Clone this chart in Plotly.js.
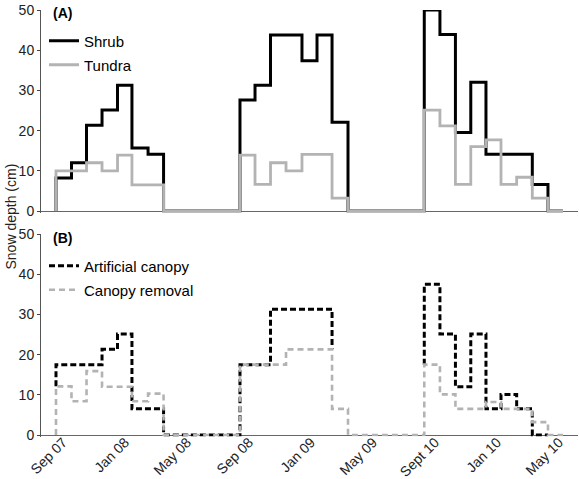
<!DOCTYPE html>
<html>
<head>
<meta charset="utf-8">
<script src="https://cdn.plot.ly/plotly-3.0.1.min.js"></script>
<style>html,body{margin:0;padding:0;background:#fff;}#chart{width:579px;height:479px;}</style>
</head>
<body>
<div id="chart"></div>
<script>
// ---- data (x = months after Sep 2007, step edges) ----
const monthEdges = [-0.71, 0.29, 1.26, 2.26, 3.26, 4.19, 5.23, 6.23,
                    11.16, 12.13, 13.13, 14.13, 15.16, 16.13, 17.10, 18.13,
                    23.05, 24.06, 25.06, 26.05, 27.03, 28.0, 29.01, 30.02, 31.03, 32.0];
const shrub   = [8.2, 12.0, 21.3, 25.1, 31.3, 15.7, 14.1, 0,
                 27.6, 31.3, 43.8, 43.8, 37.4, 43.8, 22.1, 0,
                 50.0, 43.9, 19.5, 32.0, 14.1, 14.1, 14.1, 6.6, 0, 0];
const tundra  = [10.0, 10.0, 12.0, 10.0, 13.9, 6.5, 6.5, 0,
                 13.9, 6.6, 12.0, 10.0, 14.1, 14.1, 3.2, 0,
                 25.1, 21.2, 6.6, 16.0, 17.7, 6.6, 8.4, 3.2, 0, 0];
const artificialCanopy = [17.5, 17.5, 17.5, 21.3, 25.1, 6.5, 6.5, 0,
                 17.5, 17.5, 31.3, 31.3, 31.3, 31.3, 21.3, null,
                 37.5, 25.1, 12.0, 25.1, 6.5, 10.1, 6.5, 0, 0, null];
const canopyRemoval = [12.1, 8.4, 15.9, 12.0, 12.0, 8.4, 10.3, 0,
                 17.5, 17.5, 17.5, 21.3, 21.3, 21.3, 6.5, 0,
                 17.5, 10.1, 6.5, 6.5, 8.2, 6.5, 6.5, 3.2, 0, 0];
// level each line rises from at a season start (null = none)
const riseFromZero = [0];
const canopyRiseFrom = [12.1, null, null, null, null, null, null, null,
                 null, null, null, null, null, null, null, null, 17.5];
const tickMonths = [0, 4, 8, 12, 16, 20, 24, 28, 32];
const tickLabels = ['Sep 07', 'Jan 08', 'May 08', 'Sep 08', 'Jan 09', 'May 09', 'Sept 10', 'Jan 10', 'May 10'];
const yTicks = [0, 10, 20, 30, 40, 50];

// ---- geometry helpers ----
const W = 579, H = 479, mL = 41, mR = 1, mT = 10, mB = 42;
const plotH = H - mT - mB, plotW = W - mL - mR;
const pxX = px => (px - mL) / plotW;
const pxY = py => 1 - (py - mT) / plotH;
const yMin = -0.4, yMax = 50, pxPerUnit = 4.02;
const panelHeight = (yMax - yMin) * pxPerUnit;
const aTop = 10, bTop = 234;

function steps(edges, vals, rise) {
  const xs = [], ys = [];
  for (let i = 0; i < edges.length; i++) {
    if (rise[i] !== undefined && rise[i] !== null) { xs.push(edges[i]); ys.push(rise[i]); }
    xs.push(edges[i]); ys.push(vals[i]);
  }
  return {x: xs, y: ys};
}

const FONT = 'Liberation Sans, Arial, Helvetica, sans-serif';
const GRAY = '#b3b3b3';

const s1 = steps(monthEdges, shrub, riseFromZero);
const s2 = steps(monthEdges, tundra, riseFromZero);
const s3 = steps(monthEdges, artificialCanopy, canopyRiseFrom);
const s4 = steps(monthEdges, canopyRemoval, riseFromZero);

const traces = [
  {x: s1.x, y: s1.y, name: 'Shrub', type: 'scatter', mode: 'lines', line: {shape: 'hv', color: '#000', width: 3},
   xaxis: 'x', yaxis: 'y', legend: 'legend'},
  {x: s2.x, y: s2.y, name: 'Tundra', type: 'scatter', mode: 'lines', line: {shape: 'hv', color: GRAY, width: 2.8},
   xaxis: 'x', yaxis: 'y', legend: 'legend2'},
  {x: s3.x, y: s3.y, name: 'Artificial canopy', type: 'scatter', mode: 'lines', connectgaps: false,
   line: {shape: 'hv', color: '#000', width: 3, dash: '6px,3px'}, xaxis: 'x2', yaxis: 'y2', legend: 'legend3'},
  {x: s4.x, y: s4.y, name: 'Canopy removal', type: 'scatter', mode: 'lines',
   line: {shape: 'hv', color: GRAY, width: 2.6, dash: '6px,4px'}, xaxis: 'x2', yaxis: 'y2', legend: 'legend4'}
];

const xRange = [(mL - 67) / 15.5, (W - mR - 67) / 15.5];

function yAx(domain) {
  return {domain: domain, range: [yMin, yMax], tickvals: yTicks, ticks: 'outside', ticklen: 3, tickwidth: 1,
    tickcolor: '#444', showline: true, linecolor: '#555', linewidth: 1, showgrid: false,
    zeroline: true, zerolinecolor: '#666', zerolinewidth: 1, layer: 'below traces',
    tickfont: {family: FONT, size: 14, color: '#222'}, fixedrange: true};
}
function xAx(anchor, labels) {
  return {anchor: anchor, range: xRange, showline: false, showgrid: false, zeroline: false, ticks: '',
    tickvals: tickMonths, ticktext: tickLabels, showticklabels: labels, tickangle: -45,
    ticklabelshift: -4, ticklabelstandoff: -6,
    tickfont: {family: FONT, size: 14, color: '#222'}, fixedrange: true};
}
function leg(px, py) {
  return {x: pxX(px), y: pxY(py), xanchor: 'left', yanchor: 'middle', bgcolor: 'rgba(0,0,0,0)',
    borderwidth: 0, font: {family: FONT, size: 15, color: '#000'}, itemwidth: 30};
}

const layout = {
  width: W, height: H, margin: {l: mL, r: mR, t: mT, b: mB},
  paper_bgcolor: '#fff', plot_bgcolor: '#fff', showlegend: true,
  font: {family: FONT},
  xaxis: xAx('y', false),
  xaxis2: xAx('y2', true),
  yaxis: yAx([pxY(aTop + panelHeight), pxY(aTop)]),
  yaxis2: yAx([pxY(bTop + panelHeight), pxY(bTop)]),
  legend: leg(44, 41), legend2: leg(44, 65), legend3: leg(44, 266), legend4: leg(44, 290),
  annotations: [
    {text: '<b>(A)</b>', xref: 'paper', yref: 'paper', x: pxX(51), y: pxY(12.5), xanchor: 'left', yanchor: 'middle',
     showarrow: false, font: {family: FONT, size: 14, color: '#000'}},
    {text: '<b>(B)</b>', xref: 'paper', yref: 'paper', x: pxX(51), y: pxY(238), xanchor: 'left', yanchor: 'middle',
     showarrow: false, font: {family: FONT, size: 14, color: '#000'}},
    {text: 'Snow depth (cm)', xref: 'paper', yref: 'paper', x: pxX(10.5), y: pxY(217), xanchor: 'center', yanchor: 'middle',
     textangle: -90, showarrow: false, font: {family: FONT, size: 14, color: '#222'}}
  ]
};

Plotly.newPlot('chart', traces, layout, {staticPlot: true, displayModeBar: false});
</script>
</body>
</html>
